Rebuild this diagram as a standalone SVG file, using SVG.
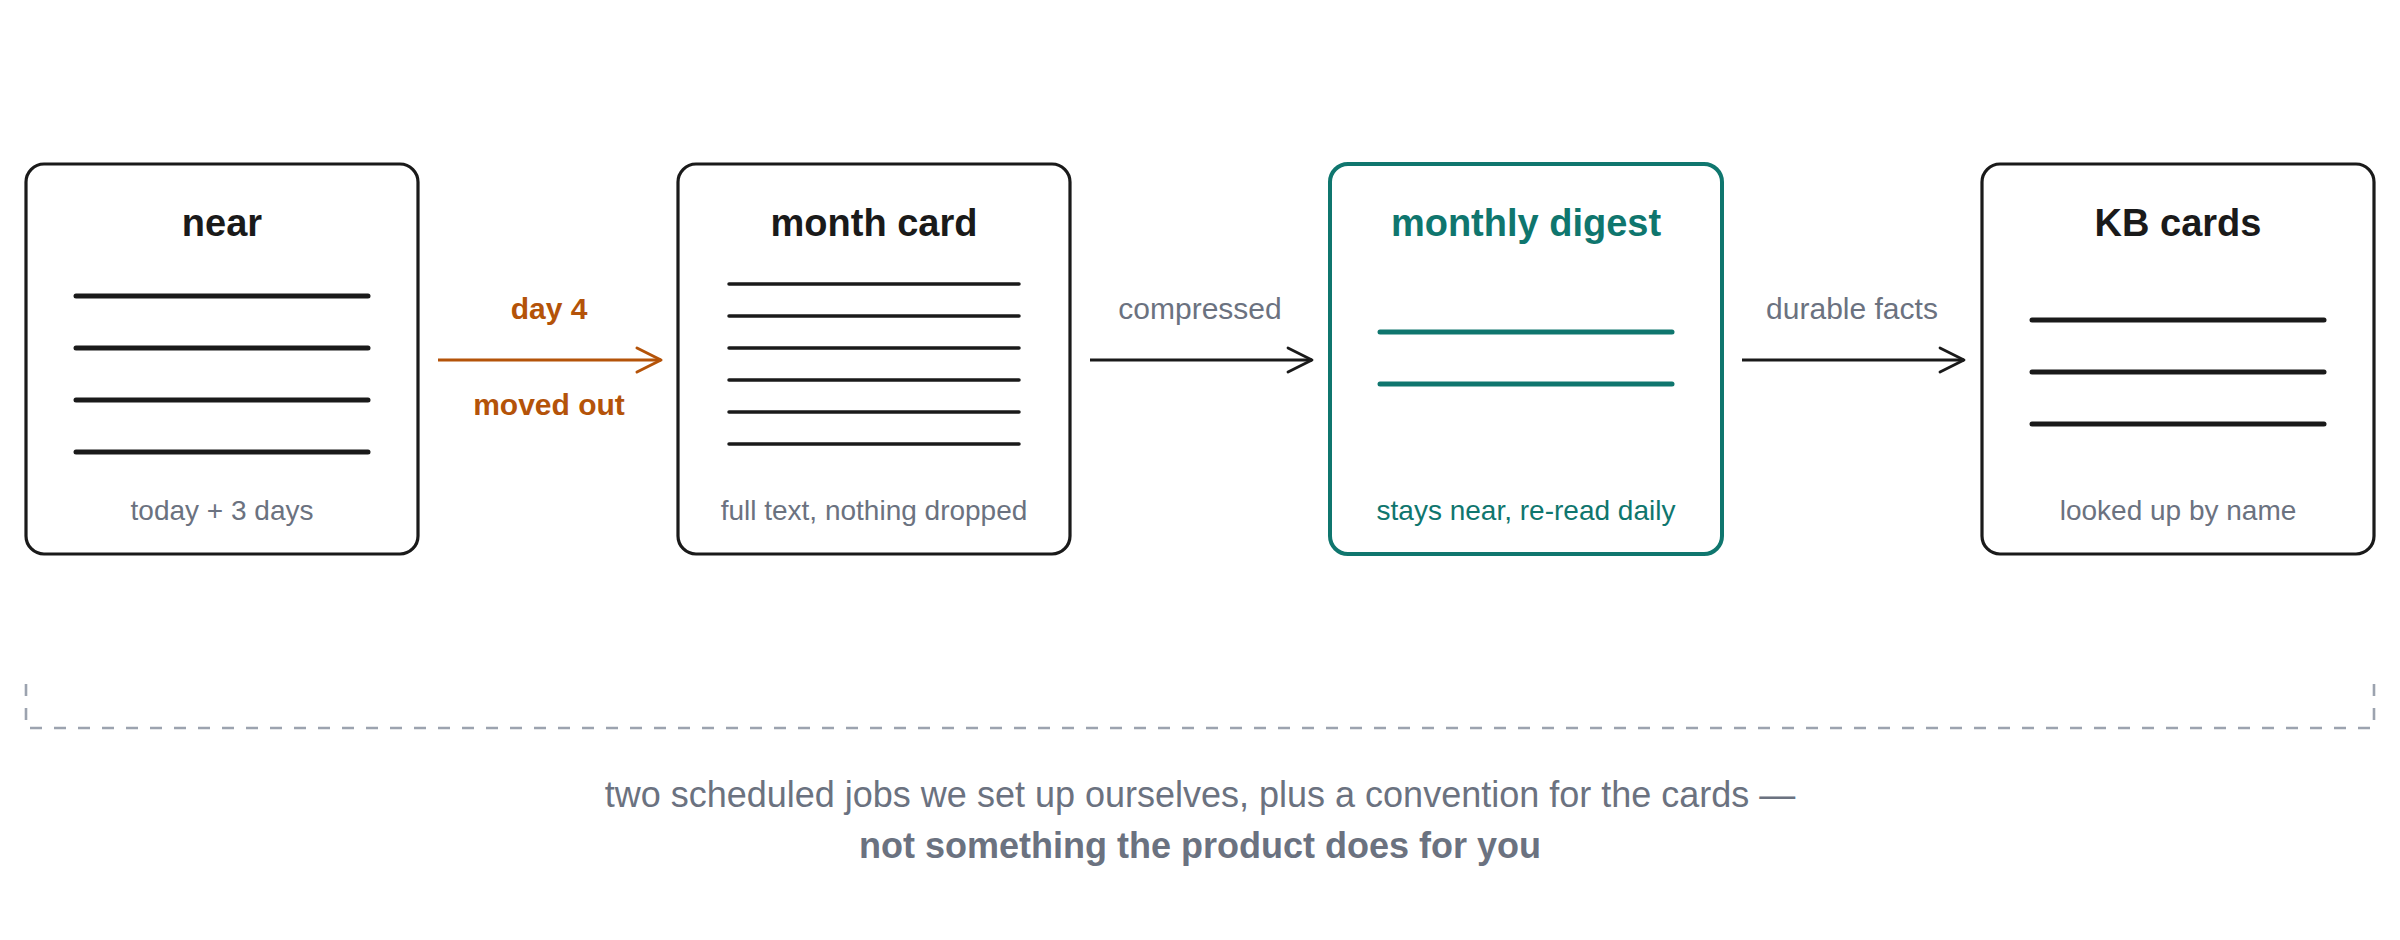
<svg xmlns="http://www.w3.org/2000/svg" width="2400" height="940" viewBox="0 0 2400 940">
  <style>
    .card { fill: #ffffff; stroke: #1a1a1a; stroke-width: 3.2; }
    .card-teal { fill: #ffffff; stroke: #0f766e; stroke-width: 4; }
    .title { font-family: "Liberation Sans", Arial, Helvetica, sans-serif; font-weight: bold; font-size: 38px; fill: #1a1a1a; text-anchor: middle; }
    .title-teal { fill: #0f766e; }
    .sub { font-family: "Liberation Sans", Arial, Helvetica, sans-serif; font-size: 28px; fill: #6b7280; text-anchor: middle; }
    .sub-teal { fill: #0f766e; }
    .ln { stroke: #1a1a1a; stroke-width: 5; stroke-linecap: round; }
    .ln-thin { stroke: #1a1a1a; stroke-width: 3.5; stroke-linecap: round; }
    .ln-teal { stroke: #0f766e; stroke-width: 5; stroke-linecap: round; }
    .edge { stroke: #1a1a1a; stroke-width: 2.8; fill: none; }
    .edge-orange { stroke: #b45309; stroke-width: 3; fill: none; }
    .elabel { font-family: "Liberation Sans", Arial, Helvetica, sans-serif; font-size: 30px; fill: #6b7280; text-anchor: middle; }
    .elabel-orange { font-weight: bold; fill: #b45309; }
    .bracket { stroke: #9ca3af; stroke-width: 2.6; fill: none; stroke-dasharray: 12 12; }
    .note { font-family: "Liberation Sans", Arial, Helvetica, sans-serif; font-size: 36px; fill: #6b7280; text-anchor: middle; }
    .note-bold { font-weight: bold; }
  </style>
  <defs>
    <marker id="ah-dark" markerUnits="userSpaceOnUse" viewBox="-30 -20 40 40" markerWidth="40" markerHeight="40" refX="0" refY="0" orient="auto" overflow="visible">
      <path d="M-24,-12 L0,0 L-24,12" fill="none" stroke="#1a1a1a" stroke-width="2.8" stroke-linecap="round" stroke-linejoin="round"/>
    </marker>
    <marker id="ah-orange" markerUnits="userSpaceOnUse" viewBox="-30 -20 40 40" markerWidth="40" markerHeight="40" refX="0" refY="0" orient="auto" overflow="visible">
      <path d="M-24,-12 L0,0 L-24,12" fill="none" stroke="#b45309" stroke-width="3" stroke-linecap="round" stroke-linejoin="round"/>
    </marker>
  </defs>

  <rect width="2400" height="940" fill="#ffffff"/>

  <g id="node-near">
    <rect class="card" x="26" y="164" width="392" height="390" rx="18" ry="18"/>
    <text class="title" x="222" y="236">near</text>
    <line class="ln" x1="76" y1="296" x2="368" y2="296"/>
    <line class="ln" x1="76" y1="348" x2="368" y2="348"/>
    <line class="ln" x1="76" y1="400" x2="368" y2="400"/>
    <line class="ln" x1="76" y1="452" x2="368" y2="452"/>
    <text class="sub" x="222" y="520">today + 3 days</text>
  </g>

  <g id="node-month-card">
    <rect class="card" x="678" y="164" width="392" height="390" rx="18" ry="18"/>
    <text class="title" x="874" y="236">month card</text>
    <line class="ln-thin" x1="729" y1="284" x2="1019" y2="284"/>
    <line class="ln-thin" x1="729" y1="316" x2="1019" y2="316"/>
    <line class="ln-thin" x1="729" y1="348" x2="1019" y2="348"/>
    <line class="ln-thin" x1="729" y1="380" x2="1019" y2="380"/>
    <line class="ln-thin" x1="729" y1="412" x2="1019" y2="412"/>
    <line class="ln-thin" x1="729" y1="444" x2="1019" y2="444"/>
    <text class="sub" x="874" y="520">full text, nothing dropped</text>
  </g>

  <g id="node-monthly-digest">
    <rect class="card-teal" x="1330" y="164" width="392" height="390" rx="18" ry="18"/>
    <text class="title title-teal" x="1526" y="236">monthly digest</text>
    <line class="ln-teal" x1="1380" y1="332" x2="1672" y2="332"/>
    <line class="ln-teal" x1="1380" y1="384" x2="1672" y2="384"/>
    <text class="sub sub-teal" x="1526" y="520">stays near, re-read daily</text>
  </g>

  <g id="node-kb-cards">
    <rect class="card" x="1982" y="164" width="392" height="390" rx="18" ry="18"/>
    <text class="title" x="2178" y="236">KB cards</text>
    <line class="ln" x1="2032" y1="320" x2="2324" y2="320"/>
    <line class="ln" x1="2032" y1="372" x2="2324" y2="372"/>
    <line class="ln" x1="2032" y1="424" x2="2324" y2="424"/>
    <text class="sub" x="2178" y="520">looked up by name</text>
  </g>

  <g id="connectors">
    <line class="edge-orange" x1="438" y1="360" x2="661" y2="360" marker-end="url(#ah-orange)"/>
    <text class="elabel elabel-orange" x="549" y="319">day 4</text>
    <text class="elabel elabel-orange" x="549" y="415">moved out</text>

    <line class="edge" x1="1090" y1="360" x2="1312" y2="360" marker-end="url(#ah-dark)"/>
    <text class="elabel" x="1200" y="319">compressed</text>

    <line class="edge" x1="1742" y1="360" x2="1964" y2="360" marker-end="url(#ah-dark)"/>
    <text class="elabel" x="1852" y="319">durable facts</text>
  </g>

  <g id="footer">
    <path class="bracket" d="M26 684 V728 H2374 V684"/>
    <text class="note" x="1200" y="807">two scheduled jobs we set up ourselves, plus a convention for the cards —</text>
    <text class="note note-bold" x="1200" y="858">not something the product does for you</text>
  </g>
</svg>
